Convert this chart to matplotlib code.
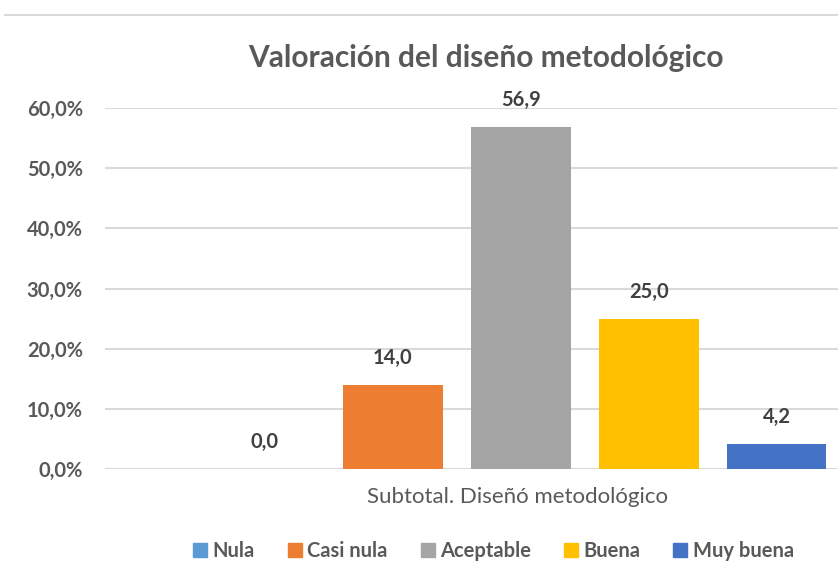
import matplotlib.pyplot as plt
from matplotlib.lines import Line2D
from matplotlib.ticker import FuncFormatter

# data
categorias = ["Nula", "Casi nula", "Aceptable", "Buena", "Muy buena"]
valores = [0.0, 14.0, 56.9, 25.0, 4.2]
colores = ["#5B9BD5", "#ED7D31", "#A5A5A5", "#FFC000", "#4472C4"]
grupo = "Subtotal. Diseñó metodológico"
titulo = "Valoración del diseño metodológico"

plt.rcParams['font.family'] = ['Lato', 'DejaVu Sans']

fig = plt.figure(figsize=(8.38, 5.63), dpi=100)
W, H = 838, 563
# axes in pixel coords: left 105, right 838, bottom 469, top 108 (60%)
ax = fig.add_axes([105 / W, 1 - 469 / H, (838 - 105) / W, (469 - 108) / H])

pos = list(range(len(valores)))
ax.bar(pos, valores, width=0.78, color=colores, zorder=3)

# data labels
for x, v in zip(pos, valores):
    ax.text(x, v + 2.8, f"{v:.1f}".replace(".", ","), ha="center", va="bottom",
            fontsize=14.5, fontweight="bold", color="#404040")

ax.set_xlim(-1.25, 4.48)
ax.set_ylim(0, 60)
ax.set_yticks(range(0, 61, 10))
ax.yaxis.set_major_formatter(FuncFormatter(lambda y, p: f"{y:.1f}%".replace(".", ",")))
ax.tick_params(axis="y", length=0, pad=16, labelsize=14.5, labelcolor="#595959")
for lab in ax.get_yticklabels():
    lab.set_fontweight("bold")
ax.set_xticks([])
ax.grid(axis="y", color="#D9D9D9", linewidth=1.5, zorder=0)
for s in ax.spines.values():
    s.set_visible(False)

# category label
fig.text(517 / W, 1 - 497 / H, grupo, ha="center", va="center",
         fontsize=16, color="#595959")

# title
fig.text(486 / W, 1 - 58 / H, titulo, ha="center", va="center",
         fontsize=21.5, fontweight="bold", color="#595959")

# top border line
fig.add_artist(Line2D([5 / W, 1], [1 - 15 / H, 1 - 15 / H], color="#D9D9D9", linewidth=1.5))

# legend
handles = [Line2D([], [], marker="s", linestyle="", color=c, markersize=10) for c in colores]
leg = fig.legend(handles, categorias, loc="center", bbox_to_anchor=(492 / W, 1 - 551 / H),
                 ncol=5, frameon=False, handletextpad=0.1, columnspacing=1.5,
                 handlelength=1.0, prop={"size": 14.5, "weight": "bold"})
for t in leg.get_texts():
    t.set_color("#595959")

fig.savefig("out.png", dpi=100)
